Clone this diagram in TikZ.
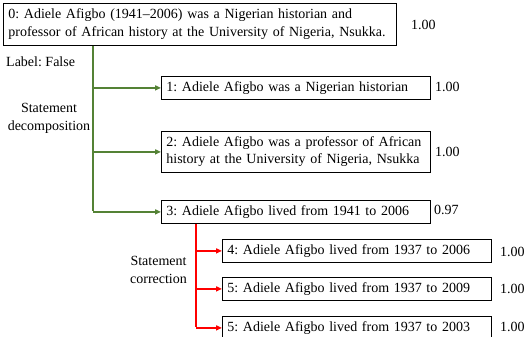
\documentclass[tikz,border=0pt]{standalone}
\usepackage{fontspec}
\setmainfont{Liberation Serif}
\usetikzlibrary{arrows.meta}
\definecolor{gr}{RGB}{84,130,53}
\frenchspacing
\begin{document}
\begin{tikzpicture}[x=1pt,y=-1pt,
  box/.style={draw=black,line width=0.8pt,anchor=north west,align=left,inner xsep=5pt,inner ysep=0pt,font=\fontsize{14}{18}\selectfont},
  score/.style={anchor=west,font=\fontsize{14}{16}\selectfont,inner sep=0pt},
  lbl/.style={align=center,font=\fontsize{14}{17.5}\selectfont,inner sep=0pt},
  garr/.style={draw=gr,line width=1.8pt,-{Triangle[length=6pt,width=5pt]}},
  gline/.style={draw=gr,line width=1.8pt},
  rarr/.style={draw=red,line width=1.8pt,-{Triangle[length=6pt,width=5pt]}},
  rline/.style={draw=red,line width=1.8pt}]
\useasboundingbox (0,0) rectangle (527,337);
\node[box,minimum width=393pt,minimum height=42pt,text width=383pt] (b0) at (3,3) {0: Adiele Afigbo (1941--2006) was a Nigerian historian and\\professor of African history at the University of Nigeria, Nsukka.};
\node[score] (s0) at (411,25) {1.00};
\node[anchor=west,inner sep=0pt,font=\fontsize{14}{16}\selectfont] (lab) at (6,62) {Label: False};
\node[box,minimum width=269pt,minimum height=23pt,text width=259pt] (b1) at (161,76) {1: Adiele Afigbo was a Nigerian historian};
\node[score] (s1) at (435,87) {1.00};
\node[box,minimum width=269pt,minimum height=41pt,text width=259pt,font=\fontsize{14}{17}\selectfont] (b2) at (161,131) {2: Adiele Afigbo was a professor of African\\history at the University of Nigeria, Nsukka};
\node[score] (s2) at (435,152) {1.00};
\node[box,minimum width=269pt,minimum height=23pt,text width=259pt] (b3) at (161,200) {3: Adiele Afigbo lived from 1941 to 2006};
\node[score] (s3) at (434,210) {0.97};
\node[lbl] (dec) at (49,118.5) {Statement\\decomposition};
\node[box,minimum width=269pt,minimum height=23pt,text width=259pt] (b4) at (222,239) {4: Adiele Afigbo lived from 1937 to 2006};
\node[score] (s4) at (500,252) {1.00};
\node[box,minimum width=269pt,minimum height=23pt,text width=259pt] (b5) at (222,277) {5: Adiele Afigbo lived from 1937 to 2009};
\node[score] (s5) at (500,289) {1.00};
\node[box,minimum width=269pt,minimum height=23pt,text width=259pt] (b6) at (222,316) {5: Adiele Afigbo lived from 1937 to 2003};
\node[score] (s6) at (500,327) {1.00};
\node[lbl] (cor) at (158.5,270) {Statement\\correction};
\coordinate (g) at (93,0);
\coordinate (r) at (196,0);
\draw[gline] (b0.south -| g) -- ([yshift=0.9pt]g |- b3.west);
\draw[garr] (g |- b1.west) -- (b1.west);
\draw[garr] (g |- b2.west) -- (b2.west);
\draw[garr] (g |- b3.west) -- (b3.west);
\draw[rline] (b3.south -| r) -- ([yshift=0.9pt]r |- b6.west);
\draw[rarr] (r |- b4.west) -- (b4.west);
\draw[rarr] (r |- b5.west) -- (b5.west);
\draw[rarr] (r |- b6.west) -- (b6.west);
\end{tikzpicture}
\end{document}
